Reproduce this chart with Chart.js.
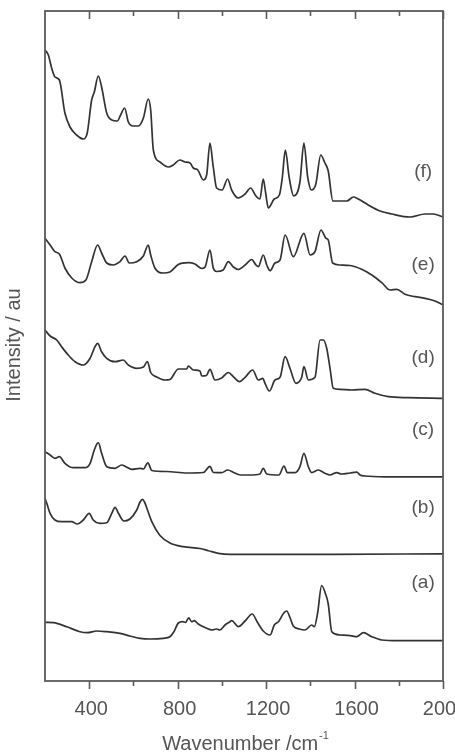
<!DOCTYPE html>
<html>
<head>
<meta charset="utf-8">
<script src="https://cdn.jsdelivr.net/npm/chart.js@4/dist/chart.umd.min.js"></script>
<style>
  html, body { margin: 0; padding: 0; background: #fff; }
  #wrap { width: 455px; height: 752px; }
</style>
</head>
<body>
<div id="wrap"><canvas id="c" width="455" height="752"></canvas></div>
<script>
/* Stacked Raman-type spectra (a)-(f), offset vertically, arbitrary units. */

const xTicks = [400, 800, 1200, 1600, 2000];
const xMinorTicks = [600, 1000, 1400, 1800];

// (f)
const wnF = [200,215,230,245,265,290,313,343,373,391,411,423,441,456,479,502,527,542,560,577,600,622,645,667,678,690,720,758,780,810,833,856,871,891,916,931,946,961,976,1001,1026,1044,1074,1105,1130,1154,1172,1187,1198,1210,1237,1260,1273,1287,1304,1325,1353,1371,1388,1405,1425,1447,1466,1481,1502,1527,1565,1595,1617,1662,1715,1768,1851,1919,1956,2000];
const intF = [631,626,613,604,601,568,554,546,542,548,581,589,605,594,568,561,560,566,573,559,555,555,563,582,571,531,519,514,516,521,519,518,513,511,501,506,538,514,493,491,502,491,483,487,493,485,482,502,488,473,482,486,503,531,504,485,499,538,504,491,497,526,518,510,480,480,480,484,482,476,470,467,464,467,467,464];

// (e)
const wnE = [200,223,245,265,290,321,358,385,411,438,456,479,509,539,562,581,615,645,667,678,697,735,765,803,848,878,909,924,946,961,976,1006,1029,1052,1074,1105,1135,1154,1165,1187,1203,1218,1240,1263,1286,1323,1371,1399,1421,1448,1471,1481,1501,1534,1580,1632,1678,1723,1761,1791,1828,1873,1919,1964,2000];
const intE = [442.7,436,429.3,427,413,403,398.3,401,419.3,436,428,418,416,419.3,425,418,419.3,425,436,426,413,408,409,416.5,418.3,417,412.5,414,431,413,409.5,411,419.3,414,411.5,416,421.5,416,414.3,426,416,410.3,418,421,446,424.3,447.7,426,429.3,451,442.7,441,418,416,415.5,411.7,406,398.3,391,391.7,386.7,384.3,382.7,380,376];

// (d)
const wnD = [200,223,253,275,305,336,373,404,426,438,456,479,517,554,577,615,645,663,678,705,743,765,803,841,848,871,901,909,930,946,969,999,1029,1055,1079,1105,1139,1165,1185,1195,1215,1240,1263,1286,1308,1335,1361,1371,1391,1421,1444,1459,1474,1489,1504,1534,1587,1647,1692,1753,1843,2000];
const intD = [351,345,341,334.3,326,319.3,316,322.7,334.3,337.7,329.3,322.7,319.3,321,316,312.7,314,319.5,308.5,304,301,301.5,312,312,315,311,310,305,305.5,311.7,301,303,308.5,303.7,299.3,303.7,311,301,302.7,297.7,290,301,303.7,324.3,312.7,297.7,303.7,314.3,301,303.7,341,341,332.7,312.7,292.7,291.7,291,291.7,287.7,284.3,283.3,282.7];

// (c)
const wnC = [200,223,245,265,290,328,381,404,423,441,456,479,517,547,566,592,630,645,665,683,750,841,916,946,961,999,1026,1055,1082,1127,1172,1187,1203,1258,1281,1296,1331,1353,1371,1391,1406,1436,1466,1489,1519,1542,1580,1610,1625,1647,1738,2000];
const intC = [229.3,226,222.7,224.3,217.7,213.3,213.3,217.7,231,238.3,227.7,214.3,212.7,216,214.3,211.7,212.7,212,218.2,210.5,209.5,208,208.5,214.7,208.5,208.3,211,208.3,206,206,207,212.7,207,206,215,208.3,208.3,214.3,227.7,214.3,208.3,211,207.7,206,208.3,207,208,208.8,206,205,204.2,204.2];

// (b)
const wnB = [200,208,223,245,275,321,346,373,400,418,449,479,502,517,532,557,584,615,630,641,650,662,683,720,765,826,901,939,984,1037,1500,2000];
const intB = [182.7,177.7,167.7,161,159.3,159.3,157,161,167.7,161,157.7,158.3,167.7,173.7,167.7,160,162,171,179,181.7,179,172,159.3,145.5,138,134.3,132.5,130.3,127.7,126.7,126.7,127.2];

// (a)
const wnA = [200,238,298,358,391,434,479,539,584,630,675,735,765,783,803,823,835,850,863,875,893,909,931,954,976,991,1014,1037,1044,1074,1105,1137,1160,1187,1218,1237,1256,1280,1293,1308,1323,1350,1376,1406,1418,1433,1451,1469,1481,1497,1534,1580,1610,1640,1678,1723,1798,2000];
const intA = [58.7,58.3,54.3,49.3,48.3,50,49.3,47.7,45,42.7,42,42.7,44.3,49.3,58,59.3,58.5,63.2,59.3,60.3,57,55,52.7,51,52,51,56,59.3,60.5,54.3,60,67,59,50,46,56,59.3,68,70,63.5,55,52,51,56,54.3,68,95.5,87,77,49.3,46,45.3,44.3,48.3,44.3,41,40.3,40.3];

const seriesLabels = ["(a)", "(b)", "(c)", "(d)", "(e)", "(f)"];
// where each label sits, in data units (wavenumber, intensity)
const labelWn = 1910;
const labelInt = [98, 173, 251, 323, 416, 509];

const AXIS = "#5a5a5a";
const INK = "#333333";
const TXT = "#555555";
const FONT = '"Liberation Sans", Arial, sans-serif';

function pairs(xs, ys) {
  return xs.map((x, i) => ({ x, y: ys[i] }));
}

const allSeries = [[wnA, intA], [wnB, intB], [wnC, intC], [wnD, intD], [wnE, intE], [wnF, intF]];

const datasets = allSeries.map(([xs, ys], i) => ({
  label: seriesLabels[i],
  data: pairs(xs, ys),
  borderColor: INK,
  borderWidth: 1.7,
  pointRadius: 0,
  fill: false,
  cubicInterpolationMode: "monotone",
}));

// Frame, ticks, axis titles and curve labels, all placed through the scales.
const framePlugin = {
  id: "frame",
  afterDraw(chart) {
    const { ctx, chartArea: a, scales } = chart;
    const sx = scales.x, sy = scales.y;
    ctx.save();
    ctx.strokeStyle = AXIS;
    ctx.lineWidth = 1.8;
    ctx.strokeRect(a.left, a.top, a.right - a.left, a.bottom - a.top);

    ctx.lineWidth = 1.6;
    ctx.beginPath();
    xTicks.forEach(v => {
      const px = Math.round(sx.getPixelForValue(v)) + 0.5;
      ctx.moveTo(px, a.bottom); ctx.lineTo(px, a.bottom + 8);   // bottom: outward
      ctx.moveTo(px, a.top); ctx.lineTo(px, a.top + 8);         // top: inward
    });
    xMinorTicks.forEach(v => {
      const px = Math.round(sx.getPixelForValue(v)) + 0.5;
      ctx.moveTo(px, a.bottom); ctx.lineTo(px, a.bottom + 5);
      ctx.moveTo(px, a.top); ctx.lineTo(px, a.top + 5);
    });
    ctx.stroke();

    // tick labels
    ctx.fillStyle = TXT;
    ctx.font = "20px " + FONT;
    ctx.textAlign = "center";
    ctx.textBaseline = "alphabetic";
    xTicks.forEach(v => {
      ctx.fillText(String(v), sx.getPixelForValue(v) + 2, a.bottom + 34);
    });

    // x title with superscript
    const main = "Wavenumber /cm";
    const sup = "-1";
    const mw = ctx.measureText(main).width;
    ctx.font = "11px " + FONT;
    const sw = ctx.measureText(sup).width;
    const cx = (a.left + a.right) / 2 + 1;
    const x0 = cx - (mw + sw) / 2;
    ctx.textAlign = "left";
    ctx.font = "20px " + FONT;
    ctx.fillText(main, x0, a.bottom + 69);
    ctx.font = "11px " + FONT;
    ctx.fillText(sup, x0 + mw + 1, a.bottom + 58);

    // y title
    ctx.save();
    ctx.translate(20, 345);
    ctx.rotate(-Math.PI / 2);
    ctx.textAlign = "center";
    ctx.font = "20px " + FONT;
    ctx.fillText("Intensity / au", 0, 0);
    ctx.restore();

    // curve labels
    ctx.font = "19px " + FONT;
    ctx.textAlign = "center";
    ctx.textBaseline = "middle";
    seriesLabels.forEach((t, i) => {
      ctx.fillText(t, sx.getPixelForValue(labelWn), sy.getPixelForValue(labelInt[i]));
    });
    ctx.restore();
  },
};

new Chart(document.getElementById("c"), {
  type: "line",
  data: { datasets },
  options: {
    responsive: false,
    animation: false,
    devicePixelRatio: 1,
    layout: { padding: { left: 45, right: 12, top: 11, bottom: 71 } },
    plugins: { legend: { display: false }, tooltip: { enabled: false } },
    scales: {
      x: { type: "linear", min: 200, max: 2000, display: false },
      y: { type: "linear", min: 0, max: 670, display: false },
    },
  },
  plugins: [framePlugin],
});
</script>
</body>
</html>
